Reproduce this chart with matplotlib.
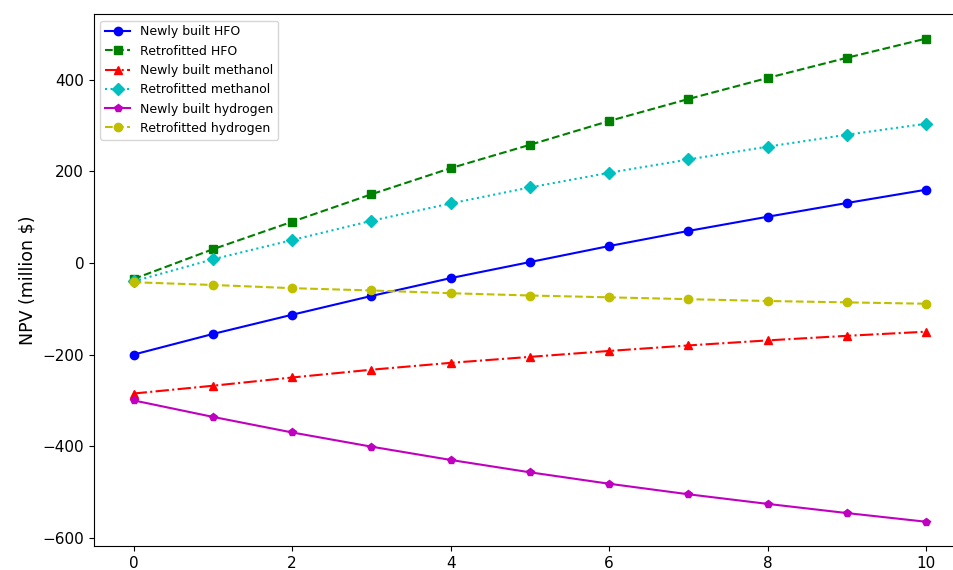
import matplotlib.pyplot as plt
import numpy as np

years = np.arange(0, 11)

new_hfo = [-200, -155, -113, -72, -33, 2, 37, 70, 101, 131, 160]
retro_hfo = [-35, 30, 90, 150, 207, 258, 310, 358, 404, 448, 490]
new_methanol = [-285, -268, -250, -233, -218, -205, -192, -180, -169, -159, -150]
retro_methanol = [-40, 8, 50, 92, 130, 165, 197, 226, 254, 280, 304]
new_hydrogen = [-300, -336, -370, -401, -430, -457, -482, -505, -526, -546, -565]
retro_hydrogen = [-42, -48, -55, -60, -66, -71, -75, -79, -83, -86, -89]

fig = plt.figure(figsize=(9.54, 5.7), dpi=100)
# right edge of the axes runs past the figure (cropped in the reference)
ax = fig.add_axes([0.0985, 0.042, 0.914, 0.933])

ax.plot(years, new_hfo, 'b-o', label='Newly built HFO')
ax.plot(years, retro_hfo, 'g--s', label='Retrofitted HFO')
ax.plot(years, new_methanol, 'r-.^', label='Newly built methanol')
ax.plot(years, retro_methanol, 'c:D', label='Retrofitted methanol')
ax.plot(years, new_hydrogen, 'm-p', label='Newly built hydrogen')
ax.plot(years, retro_hydrogen, 'y--o', label='Retrofitted hydrogen')

ax.set_xlim(-0.5, 10.5)
ax.set_ylim(-618, 543)
ax.set_xticks([0, 2, 4, 6, 8, 10])
ax.set_yticks([-600, -400, -200, 0, 200, 400])
ax.tick_params(labelsize=11)
ax.set_ylabel('NPV (million $)', fontsize=12.5)
ax.legend(loc='upper left', fontsize=9)

plt.savefig('out.png', dpi=100)
